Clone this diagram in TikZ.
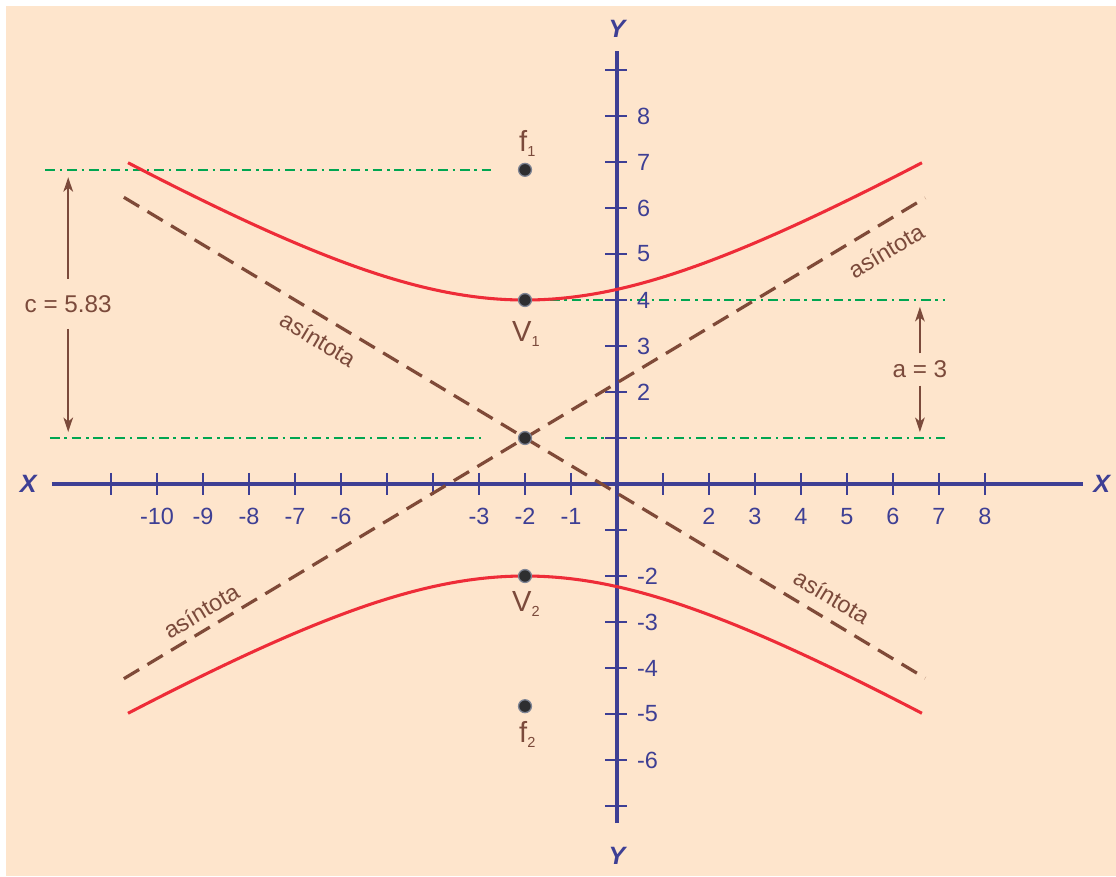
\documentclass[tikz,border=0pt]{standalone}
\usepackage{fontspec}
\setmainfont{Liberation Sans}
\usetikzlibrary{arrows.meta}

\newcommand{\lowsub}[1]{\raisebox{-3pt}{\fontsize{9}{9}\selectfont #1}}

\begin{document}
\begin{tikzpicture}[
    axisline/.style={draw=axisColour, line width=2.5pt},
    tickmark/.style={draw=axisColour, line width=1.3pt},
    ticklabel/.style={text=axisColour, inner sep=0pt, font=\fontsize{14.5}{17}\selectfont},
    axisname/.style={text=axisColour, inner sep=0pt, font=\fontsize{15.5}{18}\selectfont\bfseries\itshape},
    branch/.style={draw=curveColour, line width=1.9pt},
    asymptote/.style={draw=asymColour, line width=2pt, dash pattern=on 11pt off 6pt},
    guide/.style={draw=guideColour, line width=1pt, dash pattern=on 6pt off 3pt on 1.5pt off 3pt},
    dimarrow/.style={draw=textColour, line width=0.9pt, -{Stealth[length=9pt,width=6pt,inset=2.5pt]}},
    dimlabel/.style={text=textColour, inner xsep=2pt, inner ysep=4.5pt, font=\fontsize{15}{18}\selectfont},
    asymlabel/.style={text=textColour, inner sep=0pt, font=\fontsize{14.5}{17}\selectfont},
    pointlabel/.style={text=textColour, inner sep=0pt, anchor=base, font=\fontsize{18}{20}\selectfont},
    hypdot/.style={circle, fill=dotColour, draw=dotEdge, line width=0.8pt, minimum size=8pt, inner sep=0pt}
]
    \definecolor{bgColour}{HTML}{FEE5CC}
    \definecolor{axisColour}{HTML}{3E3F94}
    \definecolor{textColour}{HTML}{7B4A3B}
    \definecolor{curveColour}{HTML}{EE2C38}
    \definecolor{asymColour}{HTML}{7F4A38}
    \definecolor{guideColour}{HTML}{00A651}
    \definecolor{dotColour}{HTML}{2E2E30}
    \definecolor{dotEdge}{HTML}{7E8494}

    % Canvas
    \useasboundingbox (-13.413,-8.522) rectangle (10.848,10.522);
    \fill[white] (-13.413,-8.522) rectangle (10.848,10.522);
    \fill[bgColour] (-13.283,-8.522) rectangle (10.848,10.391);

    % Guide lines through focus, vertex and centre
    \draw[guide] (-12.43,6.83) -- (-2.65,6.83);
    \draw[guide] (-1.46,4) -- (7.13,4);
    \draw[guide] (-12.33,1) -- (-2.91,1);
    \draw[guide] (-1.13,1) -- (7.13,1);

    % Draw axes
    \draw[axisline] (-12.283,0) -- (10.13,0);
    \draw[axisline] (0,-7.37) -- (0,9.413);
    \node[axisname] (xnameL) at (-12.8,0) {X};
    \node[axisname] (xnameR) at (10.54,0) {X};
    \node[axisname] (ynameT) at (0,9.9) {Y};
    \node[axisname] (ynameB) at (0,-8.08) {Y};

    \foreach \x in {-11,...,-1,1,2,...,8}
        \draw[tickmark] (\x,0.24) -- (\x,-0.24);
    \foreach \y in {-7,...,-1,1,2,...,9}
        \draw[tickmark] (-0.26,\y) -- (0.22,\y);
    \foreach \x [count=\i] in {-10,-9,-8,-7,-6,-3,-2,-1,2,3,4,5,6,7,8}
        \node[ticklabel, anchor=base] (xt\i) at (\x,-0.89) {\x};
    \foreach \y [count=\i] in {8,7,6,5,4,3,2,-2,-3,-4,-5,-6}
        \node[ticklabel, anchor=west] (yt\i) at (0.43,\y) {\y};

    % Asymptotes
    \coordinate (asA1) at (-10.72,6.232);
    \coordinate (asA2) at (6.70,-4.22);
    \coordinate (asB1) at (-10.72,-4.232);
    \coordinate (asB2) at (6.70,6.22);
    \draw[asymptote] (asA1) -- (asA2);
    \draw[asymptote] (asB1) -- (asB2);
    \node[asymlabel, rotate=-31] (asLab1) at (-6.5,3.15) {asíntota};
    \node[asymlabel, rotate=31] (asLab2) at (5.85,5.07) {asíntota};
    \node[asymlabel, rotate=31] (asLab3) at (-9.04,-2.76) {asíntota};
    \node[asymlabel, rotate=-31] (asLab4) at (4.67,-2.45) {asíntota};

    % Hyperbola branches
    \draw[branch] plot[domain=-10.63:6.63, samples=100, smooth] (\x, {1+3*sqrt(1+((\x+2)/5)^2)});
    \draw[branch] plot[domain=-10.63:6.63, samples=100, smooth] (\x, {1-3*sqrt(1+((\x+2)/5)^2)});

    % Foci, vertices and centre
    \node[hypdot] (f1) at (-2,6.83) {};
    \node[hypdot] (v1) at (-2,4) {};
    \node[hypdot] (ctr) at (-2,1) {};
    \node[hypdot] (v2) at (-2,-2) {};
    \node[hypdot] (f2) at (-2,-4.83) {};
    \node[pointlabel] (f1lab) at (-1.95,7.22) {f\lowsub{1}};
    \node[pointlabel] (v1lab) at (-1.98,3.09) {V\lowsub{1}};
    \node[pointlabel] (v2lab) at (-1.98,-2.78) {V\lowsub{2}};
    \node[pointlabel] (f2lab) at (-1.95,-5.63) {f\lowsub{2}};

    % Distances c and a
    \coordinate (cTop) at (-11.93,6.67);
    \coordinate (cBot) at (-11.93,1.13);
    \node[dimlabel, inner ysep=10pt] (cLab) at (-11.93,3.915) {c = 5.83};
    \draw[dimarrow] (cLab) -- (cTop);
    \draw[dimarrow] (cLab) -- (cBot);

    \coordinate (aTop) at (6.585,3.85);
    \coordinate (aBot) at (6.585,1.13);
    \node[dimlabel] (aLab) at (6.585,2.49) {a = 3};
    \draw[dimarrow] (aLab) -- (aTop);
    \draw[dimarrow] (aLab) -- (aBot);

\end{tikzpicture}
\end{document}
